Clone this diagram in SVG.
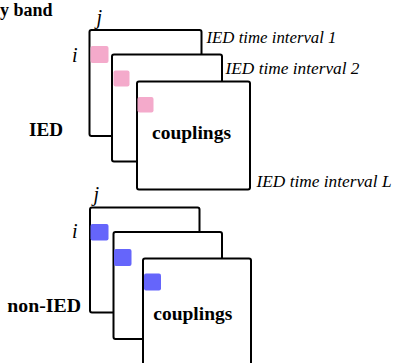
<svg xmlns="http://www.w3.org/2000/svg" width="394" height="363" viewBox="0 0 394 363">
  <style>
    .frame { fill: #ffffff; stroke: #000000; stroke-width: 2; }
    .ied { fill: #f4aacb; }
    .non { fill: #6565fb; }
    text { font-family: "Liberation Serif", "Times New Roman", Times, serif; fill: #000000; }
    .bold { font-weight: bold; font-size: 18px; }
    .ital { font-style: italic; font-size: 17px; }
    .idx { font-style: italic; font-size: 20px; }
  </style>
  <rect width="394" height="363" fill="#ffffff"/>

  <text class="bold" x="52.5" y="16" text-anchor="end">y band</text>

  <!-- IED coupling matrices, one per time interval -->
  <g id="ied-stack">
    <text class="idx" x="96.5" y="24">j</text>
    <text class="idx" x="72" y="61.5">i</text>
    <text class="bold" x="29" y="136" textLength="34" lengthAdjust="spacingAndGlyphs">IED</text>
    <g id="ied-interval-1">
      <rect class="frame" x="89.5" y="30" width="112" height="106" rx="2"/>
      <rect class="ied" x="90.5" y="46" width="18" height="17" rx="2"/>
    </g>
    <g id="ied-interval-2">
      <rect class="frame" x="112" y="54.5" width="110" height="107" rx="2"/>
      <rect class="ied" x="113.5" y="70.5" width="16" height="16" rx="2"/>
    </g>
    <g id="ied-interval-L">
      <rect class="frame" x="137" y="81.5" width="113" height="108" rx="2"/>
      <rect class="ied" x="137.5" y="97" width="16" height="15.5" rx="2"/>
      <text class="bold" x="152" y="139" textLength="79" lengthAdjust="spacingAndGlyphs">couplings</text>
    </g>
    <text class="ital" x="206.5" y="43" textLength="130" lengthAdjust="spacingAndGlyphs">IED time interval 1</text>
    <text class="ital" x="225.5" y="74" textLength="134" lengthAdjust="spacingAndGlyphs">IED time interval 2</text>
    <text class="ital" x="256.5" y="187" textLength="135" lengthAdjust="spacingAndGlyphs">IED time interval L</text>
  </g>

  <!-- non-IED coupling matrices -->
  <g id="non-ied-stack">
    <text class="idx" x="93.5" y="201">j</text>
    <text class="idx" x="72" y="238.3">i</text>
    <text class="bold" x="7.3" y="312" textLength="73.7" lengthAdjust="spacingAndGlyphs">non-IED</text>
    <g id="non-ied-1">
      <rect class="frame" x="90" y="207.5" width="109.5" height="105" rx="2"/>
      <rect class="non" x="90.5" y="224" width="18" height="16.5" rx="2"/>
    </g>
    <g id="non-ied-2">
      <rect class="frame" x="113.5" y="232" width="108.5" height="107" rx="2"/>
      <rect class="non" x="114" y="249" width="17.5" height="17" rx="2"/>
    </g>
    <g id="non-ied-L">
      <rect class="frame" x="143" y="258.5" width="108" height="115" rx="2"/>
      <rect class="non" x="144" y="273.5" width="17" height="17" rx="2"/>
      <text class="bold" x="153.3" y="319.5" textLength="79" lengthAdjust="spacingAndGlyphs">couplings</text>
    </g>
  </g>

  <g id="connectors"/>
</svg>
